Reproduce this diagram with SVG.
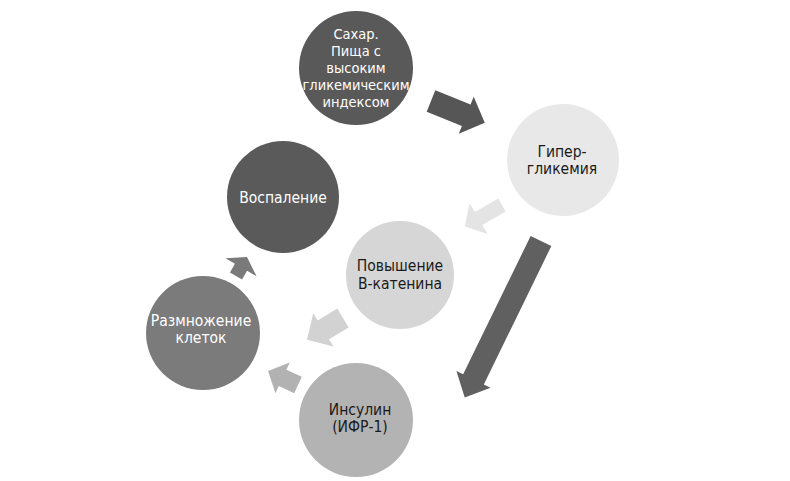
<svg xmlns="http://www.w3.org/2000/svg" width="790" height="481" viewBox="0 0 790 481">
<style>
text{font-family:"DejaVu Sans Condensed","DejaVu Sans",sans-serif;font-stretch:condensed;font-size:15.5px;text-anchor:middle}
#sugar text{font-size:14.5px}
.w{fill:#ffffff}
.k{fill:#1a1a1a}
</style>
<rect width="790" height="481" fill="#ffffff"/>
<g id="connectors">
<polygon fill="#565656" transform="translate(431,101) rotate(22)" points="0,-11.5 38,-11.5 38,-20 58,0 38,20 38,11.5 0,11.5"/>
<polygon fill="#e4e4e4" transform="translate(502,205) rotate(150)" points="0,-7.5 27,-7.5 27,-18 43,0 27,18 27,7.5 0,7.5"/>
<polygon fill="#606060" transform="translate(541,241) rotate(116)" points="0,-11.5 154,-11.5 154,-19 174,0 154,19 154,11.5 0,11.5"/>
<polygon fill="#d2d2d2" transform="translate(343,318) rotate(149)" points="0,-11 23,-11 23,-19.5 42,0 23,19.5 23,11 0,11"/>
<polygon fill="#b2b2b2" transform="translate(298,385) rotate(205)" points="0,-9 17,-9 17,-17 33,0 17,17 17,9 0,9"/>
<polygon fill="#7a7a7a" transform="translate(236,276) rotate(-60)" points="0,-7 10,-7 10,-18 22,0 10,18 10,7 0,7"/>
</g>
<g id="sugar">
<circle cx="356" cy="68" r="57" fill="#595959"/>
<text class="w" x="356" y="39">Сахар.</text>
<text class="w" x="356" y="56">Пища с</text>
<text class="w" x="356" y="73">высоким</text>
<text class="w" x="356" y="90">гликемическим</text>
<text class="w" x="356" y="107">индексом</text>
</g>
<g id="hyper">
<circle cx="563" cy="160" r="56" fill="#e8e8e8"/>
<text class="k" x="562" y="157">Гипер-</text>
<text class="k" x="562" y="174">гликемия</text>
</g>
<g id="inflammation">
<circle cx="283" cy="197" r="56" fill="#5a5a5a"/>
<text class="w" x="283" y="203">Воспаление</text>
</g>
<g id="catenin">
<circle cx="400" cy="275" r="54" fill="#d6d6d6"/>
<text class="k" x="400" y="271">Повышение</text>
<text class="k" x="400" y="289">В-катенина</text>
</g>
<g id="proliferation">
<circle cx="203" cy="333" r="57" fill="#7b7b7b"/>
<text class="w" x="201" y="326">Размножение</text>
<text class="w" x="201" y="343">клеток</text>
</g>
<g id="insulin">
<circle cx="356" cy="420" r="57" fill="#b3b3b3"/>
<text class="k" x="360" y="415">Инсулин</text>
<text class="k" x="360" y="432">(ИФР-1)</text>
</g>
</svg>
